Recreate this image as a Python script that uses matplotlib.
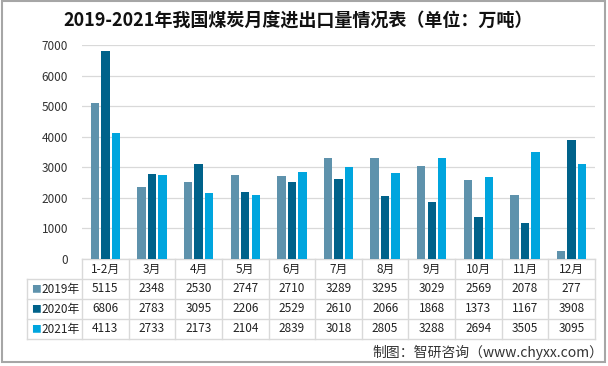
# -*- coding: utf-8 -*-

# Importing libraries
import numpy as np
import matplotlib
matplotlib.use("Agg")
import matplotlib.pyplot as plt
import matplotlib.transforms as mtransforms
from matplotlib.patches import Rectangle

plt.rcParams["font.family"] = ["Noto Sans CJK SC", "DejaVu Sans"]

# Data
months = ["1-2月", "3月", "4月", "5月", "6月", "7月", "8月", "9月", "10月", "11月", "12月"]
series_names = ["2019年", "2020年", "2021年"]
v2019 = [5115, 2348, 2530, 2747, 2710, 3289, 3295, 3029, 2569, 2078, 277]
v2020 = [6806, 2783, 3095, 2206, 2529, 2610, 2066, 1868, 1373, 1167, 3908]
v2021 = [4113, 2733, 2173, 2104, 2839, 3018, 2805, 3288, 2694, 3505, 3095]
yticks = [0, 1000, 2000, 3000, 4000, 5000, 6000, 7000]

title = "2019-2021年我国煤炭月度进出口量情况表（单位：万吨）"
source = "制图：智研咨询（www.chyxx.com）"

colors = ["#5E92AC", "#00628A", "#00A5DE"]
grid_c = "#D9D9D9"

# Figure and axes
W, H = 608, 366
fig = plt.figure(figsize=(W / 100, H / 100), dpi=100)
ax = fig.add_axes([82 / W, 107 / H, 513 / W, 214 / H])

x = np.arange(len(months))
offsets = [-0.225, 0, 0.225]
for vals, off, c in zip([v2019, v2020, v2021], offsets, colors):
    ax.bar(x + off, vals, width=0.18, color=c, zorder=3)

ax.set_xlim(-0.5, len(months) - 0.5)
ax.set_ylim(0, 7000)
ax.set_yticks(yticks)
ax.set_yticklabels([str(t) for t in yticks], fontsize=8.5, color="#333333")
ax.set_xticks([])
ax.tick_params(axis="y", length=0, pad=10)
ax.grid(axis="y", color=grid_c, lw=0.9, zorder=0)
for s in ax.spines.values():
    s.set_visible(False)

# Data table under the plot
trans = mtransforms.blended_transform_factory(ax.transData, ax.transAxes)
h = 20 / 214
cw = 513 / len(months)  # px per category
xl = -0.5 - 55 / cw
xr = len(months) - 0.5
lkw = dict(color=grid_c, lw=1, transform=trans, clip_on=False)

ax.plot([-0.5, xr], [0, 0], **lkw)
for r in range(1, 5):
    ax.plot([xl, xr], [-r * h, -r * h], **lkw)
for i in range(len(months) + 1):
    ax.plot([-0.5 + i, -0.5 + i], [0, -4 * h], **lkw)
ax.plot([xl, xl], [-h, -4 * h], **lkw)

for i, m in enumerate(months):
    ax.text(i, -0.5 * h, m, ha="center", va="center", fontsize=8.5,
            color="#222222", transform=trans)

for r, (name, vals, c) in enumerate(zip(series_names, [v2019, v2020, v2021], colors)):
    yc = -(r + 1.5) * h
    ax.text(xl + 0.09, yc, "■", ha="left", va="center", fontsize=7,
            color=c, transform=trans)
    ax.text(xl + 0.3, yc, name, ha="left", va="center", fontsize=8.5,
            color="#222222", transform=trans)
    for i, v in enumerate(vals):
        ax.text(i, yc, str(v), ha="center", va="center", fontsize=8.5,
                color="#222222", transform=trans)

# Title, source, border
fig.text(0.49, 1 - 21 / H, title, ha="center", va="center", fontsize=13,
         fontweight="bold", color="#111111")
fig.text(0.993, 1 - 352 / H, source, ha="right", va="center", fontsize=10,
         color="#333333")
fig.patches.append(Rectangle((2 / W, 4 / H), 603 / W, 361 / H, fill=False,
                             edgecolor="#A6A6A6", lw=1.5,
                             transform=fig.transFigure, figure=fig))

plt.savefig("out.png", dpi=100)
